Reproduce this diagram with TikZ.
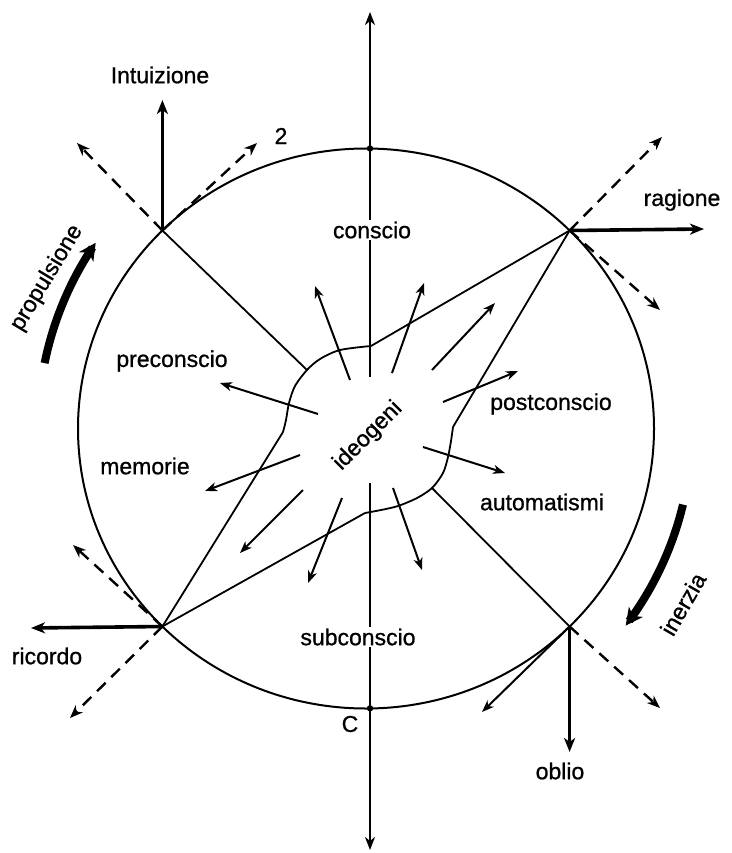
\documentclass[tikz,border=0pt]{standalone}
\usepackage{fontspec}
\setmainfont{Liberation Sans}
\newfontfamily\lblfont[FakeBold=0.9]{Liberation Sans}
\usetikzlibrary{arrows.meta,calc}
\begin{document}
\begin{tikzpicture}[x=1pt,y=-1pt,
  lbl/.style={font=\lblfont\fontsize{23}{27}\selectfont, inner sep=1pt},
  circ/.style={line width=2pt},
  seg/.style={line width=1.8pt},
  axisarr/.style={line width=2.6pt,-{Stealth[length=13pt,width=10pt,inset=4pt]}},
  thickarr/.style={line width=3.6pt,-{Stealth[length=14pt,width=11pt,inset=4pt]}},
  dasharr/.style={line width=2.4pt,dash pattern=on 12pt off 8pt,-{Stealth[length=13pt,width=10pt,inset=4pt]}},
  innerarr/.style={line width=2pt,-{Stealth[length=12pt,width=9pt,inset=3.5pt]}},
  bigarr/.style={line width=8pt,-{Stealth[length=17pt,width=17pt,inset=5pt]}}
]
\fill[white] (0,0) rectangle (731,853);
\useasboundingbox (0,0) rectangle (731,853);

% circle and junctions
\coordinate (O) at (366,428.5);
\coordinate (NW) at (162.4,230.5);
\coordinate (NE) at (569.6,230.5);
\coordinate (SW) at (162.4,626.5);
\coordinate (SE) at (569.6,626.5);
\coordinate (Tc) at (370,148.5);
\coordinate (Bc) at (370,708.3);
\draw[circ] (O) ellipse [x radius=288pt, y radius=280pt];

% vertical axis
\coordinate (ax1) at (370,377);
\coordinate (axT) at (370,12);
\coordinate (ax2) at (370,483);
\coordinate (axB) at (370,850);
\draw[axisarr] (ax1) -- (axT);
\draw[axisarr] (ax2) -- (axB);
\fill (Tc) circle (3.2pt);
\fill (Bc) circle (3.2pt);

% blob
\coordinate (bA0) at (371,346);
\coordinate (bA1) at (307,370);
\coordinate (bA2) at (283,432);
\coordinate (bB0) at (365,513);
\coordinate (bB1) at (432,488);
\coordinate (bB2) at (453,427);
\draw[seg] plot[smooth] coordinates {(371,346) (340,350) (320,359) (307,370) (295,386) (289,403) (286,420) (283,432)};
\draw[seg] plot[smooth] coordinates {(365,513) (381,510) (398,506) (417,498) (432,488) (443,473) (448,457) (451,441) (453,427)};

% sector lines
\draw[seg] (NW) -- (bA1);
\draw[seg] (NE) -- (bA0);
\draw[seg] (NE) -- (bB2);
\draw[seg] (SW) -- (bA2);
\draw[seg] (SW) -- (bB0);
\draw[seg] (SE) -- (bB1);

% arrows from the junctions
\coordinate (eInt) at (162.4,100);
\coordinate (eNWa) at (77,143);
\coordinate (eNWb) at (257,143);
\coordinate (eRag) at (704,229);
\coordinate (eNEa) at (662,137);
\coordinate (eNEb) at (660,310);
\coordinate (eRic) at (31,628);
\coordinate (eSWa) at (73,545);
\coordinate (eSWb) at (70,718);
\coordinate (eObl) at (569.6,752);
\coordinate (eSEa) at (482,712);
\coordinate (eSEb) at (660,708);
\draw[thickarr] (NW) -- (eInt);
\draw[dasharr] (NW) -- (eNWa);
\draw[dasharr] (NW) -- (eNWb);
\draw[thickarr] (NE) -- (eRag);
\draw[dasharr] (NE) -- (eNEa);
\draw[dasharr] (NE) -- (eNEb);
\draw[thickarr] (SW) -- (eRic);
\draw[dasharr] (SW) -- (eSWa);
\draw[dasharr] (SW) -- (eSWb);
\draw[thickarr] (SE) -- (eObl);
\draw[innerarr] (SE) -- (eSEa);
\draw[dasharr] (SE) -- (eSEb);

% inner arrows from the ideogeni
\foreach \tx/\ty/\hx/\hy [count=\i] in {350/380/315/286, 392/373/424/283, 432/370/495/303, 443/402/518/371, 423/447/505/473, 393/488/422/570, 342/498/308/583, 303/490/240/553, 300/455/205/491, 318/414/220/383}{
  \coordinate (it\i) at (\tx,\ty);
  \coordinate (ih\i) at (\hx,\hy);
  \draw[innerarr] (it\i) -- (ih\i);
}

% big curved arrows
\draw[bigarr] plot[smooth,domain=168.5:145.5,samples=12] ({366+328*cos(\x)},{428.5-328*sin(\x)});
\draw[bigarr] plot[smooth,domain=-13.5:-37.2,samples=12] ({366+326*cos(\x)},{428.5-326*sin(\x)});

% labels
\node[lbl] (tInt) at (160,75) {Intuizione};
\node[lbl] (tTwo) at (281,136) {2};
\node[lbl] (tRag) at (682,200) {ragione};
\node[lbl,fill=white,inner sep=2pt] (tCon) at (372,230) {conscio};
\node[lbl] (tPre) at (172,361) {preconscio};
\node[lbl] (tPost) at (551,404) {postconscio};
\node[lbl] (tMem) at (145,466) {memorie};
\node[lbl] (tAut) at (542,502) {automatismi};
\node[lbl,fill=white,inner sep=2pt] (tSub) at (358,637) {subconscio};
\node[lbl] (tC) at (350,724) {C};
\node[lbl] (tRic) at (47,656) {ricordo};
\node[lbl] (tObl) at (560,771) {oblio};
\node[lbl,rotate=45] (tIde) at (368,436) {ideogeni};
\node[lbl,rotate=59] (tProp) at (47,278) {propulsione};
\node[lbl,rotate=60] (tIne) at (683,604) {inerzia};
\end{tikzpicture}
\end{document}
